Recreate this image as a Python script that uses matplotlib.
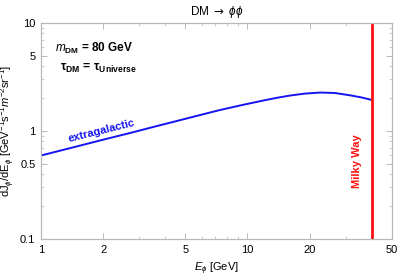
import numpy as np
import matplotlib
matplotlib.use("Agg")
import matplotlib.pyplot as plt
from matplotlib.ticker import FixedLocator, FixedFormatter, NullFormatter, LogLocator

# Data
energy = [1.0, 1.5, 2.0, 2.7, 3.5, 4.46, 5.5, 6.59, 7.36, 9.5, 12.17, 14.0, 16.1,
          19.0, 22.5, 26.5, 31.4, 35.5, 40.0]
flux = [0.593, 0.722, 0.831, 0.958, 1.090, 1.226, 1.358, 1.483, 1.564, 1.746, 1.93,
        2.035, 2.13, 2.22, 2.27, 2.25, 2.14, 2.05, 1.94]
milky_way_E = 40.0

xticks = [1, 2, 5, 10, 20, 50]
xtick_labels = ["1", "2", "5", "10", "20", "50"]
yticks = [0.1, 0.5, 1, 5, 10]
ytick_labels = ["0.1", "0.5", "1", "5", "10"]

plt.rcParams['font.family'] = ['Liberation Sans', 'DejaVu Sans']
plt.rcParams['mathtext.fontset'] = 'custom'
plt.rcParams['mathtext.rm'] = 'Liberation Sans'
plt.rcParams['mathtext.it'] = 'Liberation Sans:italic'
plt.rcParams['mathtext.bf'] = 'Liberation Sans:bold'
plt.rcParams['mathtext.sf'] = 'DejaVu Sans'

fig = plt.figure(figsize=(3.99, 2.79), dpi=100)
ax = fig.add_axes([41/399, 1 - 239/279, (391.7-41)/399, (239-23)/279])

ax.plot(energy, flux, color='#1414f0', lw=1.4, solid_joinstyle='round')
ax.axvline(milky_way_E, color='#ff1010', lw=2.0)

ax.set_xscale('log')
ax.set_yscale('log')
ax.set_xlim(1, 50)
ax.set_ylim(0.1, 10)

ax.xaxis.set_major_locator(FixedLocator(xticks))
ax.xaxis.set_major_formatter(FixedFormatter(xtick_labels))
ax.yaxis.set_major_locator(FixedLocator(yticks))
ax.yaxis.set_major_formatter(FixedFormatter(ytick_labels))
ax.xaxis.set_minor_locator(LogLocator(base=10, subs=np.arange(1, 10)))
ax.yaxis.set_minor_locator(LogLocator(base=10, subs=np.arange(1, 10)))
ax.xaxis.set_minor_formatter(NullFormatter())
ax.yaxis.set_minor_formatter(NullFormatter())

frame_c = '#b8b8b8'
for s in ax.spines.values():
    s.set_color(frame_c)
    s.set_linewidth(0.9)
ax.tick_params(which='both', direction='in', top=True, right=True, color=frame_c,
               labelsize=8, pad=4)
ax.tick_params(which='major', length=4, width=0.7)
ax.tick_params(which='minor', length=2, width=0.5)

ax.set_title(r'$\mathrm{DM}\ \mathsf{\rightarrow}\ \phi\phi$', fontsize=8.5, pad=6)
ax.set_xlabel(r'$E_\phi$ [GeV]', fontsize=8, labelpad=4)
ax.set_ylabel(r'dJ$_\phi$/dE$_\phi$ [GeV$^{-1}$s$^{-1}$$m^{-2}$sr$^{-1}$]', fontsize=8, labelpad=2)

ax.text(0.04, 0.884, r'$\mathbf{\mathit{m}_{DM}}$ = 80 GeV', transform=ax.transAxes,
        fontsize=8.5, fontweight='bold', ha='left', va='center')
ax.text(0.054, 0.79, r'$\mathbf{\tau_{DM}}$ = $\mathbf{\tau_{Universe}}$', transform=ax.transAxes,
        fontsize=8.8, fontweight='bold', ha='left', va='center')

ax.text(0.174, 0.502, 'extragalactic', transform=ax.transAxes, color='#1414f0',
        fontsize=8, fontweight='bold', rotation=14, ha='center', va='center')
ax.text(0.901, 0.359, 'Milky Way', transform=ax.transAxes, color='#ff1010',
        fontsize=8, fontweight='bold', rotation=90, ha='center', va='center')

fig.savefig('out.png', dpi=100)
